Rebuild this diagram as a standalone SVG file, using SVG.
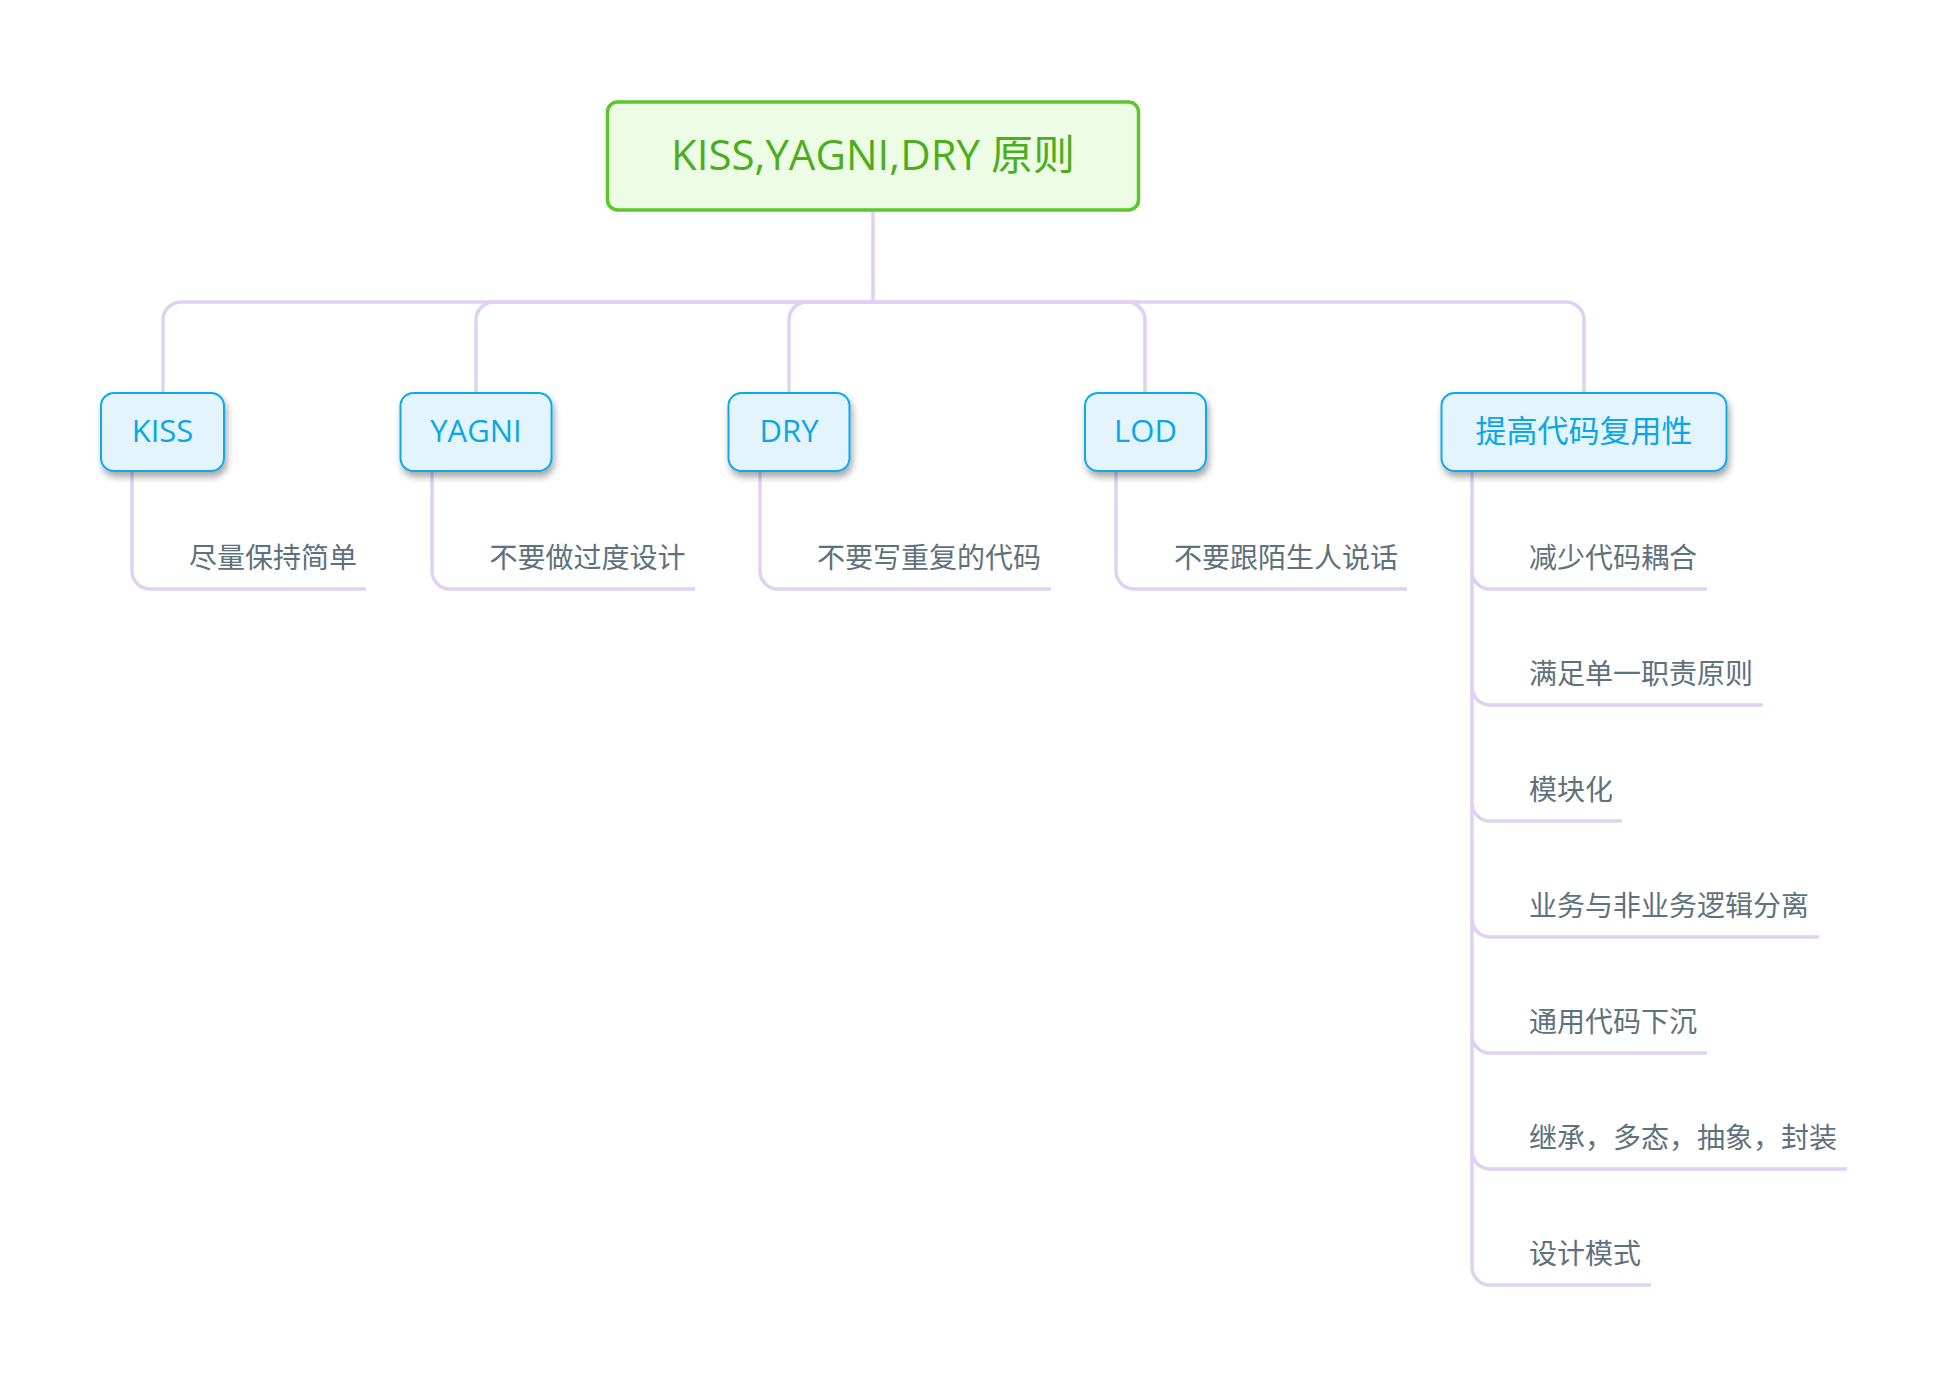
<svg xmlns="http://www.w3.org/2000/svg" width="1948" height="1388" viewBox="0 0 1948 1388">
<style>
.conn{fill:none;stroke:#e0d0f2;stroke-width:3.5;}
.root rect{fill:#edfde5;stroke:#5dc62d;stroke-width:3.5;}
.root text{fill:#4cae1f;font-size:42px;text-anchor:middle;}
.main rect{fill:#e3f4fc;stroke:#0eaaf0;stroke-width:2;filter:url(#sh);}
.main text{fill:#0aa6e8;font-size:31px;text-anchor:middle;}
.sub text{fill:#5e717c;font-size:28px;}
text{font-family:"Open Sans","Noto Sans CJK SC",sans-serif;}
</style>
<defs>
<filter id="sh" x="-20%" y="-20%" width="140%" height="160%">
<feDropShadow dx="2" dy="5" stdDeviation="3.5" flood-color="#000" flood-opacity="0.35"/>
</filter>
</defs>
<rect width="1948" height="1388" fill="#fff"/>
<g id="connectors">
<path class="conn" d="M873,210 V302"/>
<path class="conn" d="M873,302 H181 A18,18 0 0 0 163,320 V392"/>
<path class="conn" d="M873,302 H494 A18,18 0 0 0 476,320 V392"/>
<path class="conn" d="M873,302 H807 A18,18 0 0 0 789,320 V392"/>
<path class="conn" d="M873,302 H1127 A18,18 0 0 1 1145,320 V392"/>
<path class="conn" d="M873,302 H1566 A18,18 0 0 1 1584,320 V392"/>
<path class="conn" d="M132,471 V571 A18,18 0 0 0 150,589 H366"/>
<path class="conn" d="M432,471 V571 A18,18 0 0 0 450,589 H695"/>
<path class="conn" d="M760,471 V571 A18,18 0 0 0 778,589 H1051"/>
<path class="conn" d="M1116,471 V571 A18,18 0 0 0 1134,589 H1407"/>
<path class="conn" d="M1472,471 V1267 A18,18 0 0 0 1490,1285 H1651"/>
<path class="conn" d="M1472,571 A18,18 0 0 0 1490,589 H1707"/>
<path class="conn" d="M1472,687 A18,18 0 0 0 1490,705 H1763"/>
<path class="conn" d="M1472,803 A18,18 0 0 0 1490,821 H1622"/>
<path class="conn" d="M1472,919 A18,18 0 0 0 1490,937 H1819"/>
<path class="conn" d="M1472,1035 A18,18 0 0 0 1490,1053 H1707"/>
<path class="conn" d="M1472,1151 A18,18 0 0 0 1490,1169 H1847"/>
</g>
<g id="root" class="root">
<rect x="607.5" y="102" width="531" height="108" rx="10"/>
<text x="873" y="170">KISS,YAGNI,DRY 原则</text>
</g>
<g id="kiss" class="main">
<rect x="101" y="393" width="123" height="78" rx="13"/>
<text x="162.5" y="442">KISS</text>
</g>
<g id="yagni" class="main">
<rect x="400.5" y="393" width="151" height="78" rx="13"/>
<text x="476" y="442">YAGNI</text>
</g>
<g id="dry" class="main">
<rect x="728.5" y="393" width="121" height="78" rx="13"/>
<text x="789" y="442">DRY</text>
</g>
<g id="lod" class="main">
<rect x="1085" y="393" width="121" height="78" rx="13"/>
<text x="1145.5" y="442">LOD</text>
</g>
<g id="reuse" class="main">
<rect x="1441.5" y="393" width="285" height="78" rx="13"/>
<text x="1584" y="442" font-size="32">提高代码复用性</text>
</g>
<g id="kiss-1" class="sub"><text x="189" y="568">尽量保持简单</text></g>
<g id="yagni-1" class="sub"><text x="489.5" y="568">不要做过度设计</text></g>
<g id="dry-1" class="sub"><text x="817" y="568">不要写重复的代码</text></g>
<g id="lod-1" class="sub"><text x="1174" y="568">不要跟陌生人说话</text></g>
<g id="reuse-1" class="sub"><text x="1529" y="568">减少代码耦合</text></g>
<g id="reuse-2" class="sub"><text x="1529" y="684">满足单一职责原则</text></g>
<g id="reuse-3" class="sub"><text x="1529" y="800">模块化</text></g>
<g id="reuse-4" class="sub"><text x="1529" y="916">业务与非业务逻辑分离</text></g>
<g id="reuse-5" class="sub"><text x="1529" y="1032">通用代码下沉</text></g>
<g id="reuse-6" class="sub"><text x="1529" y="1148">继承，多态，抽象，封装</text></g>
<g id="reuse-7" class="sub"><text x="1529" y="1264">设计模式</text></g>
</svg>
